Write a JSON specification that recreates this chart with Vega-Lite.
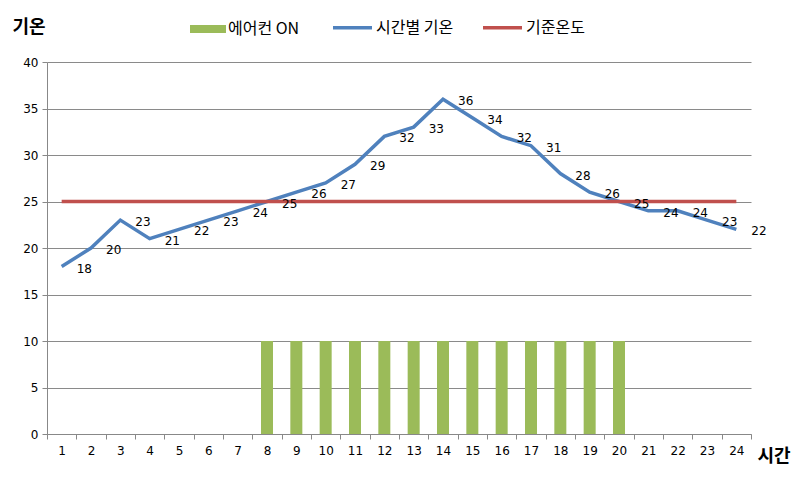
{
  "$schema": "https://vega.github.io/schema/vega-lite/v6.json",
  "width": 704,
  "height": 372,
  "autosize": "none",
  "padding": {"left": 47, "top": 62, "right": 56, "bottom": 44},
  "background": "white",
  "data": {
    "values": [
      {"hour": 1, "temp": 18, "base": 25, "ac": null},
      {"hour": 2, "temp": 20, "base": 25, "ac": null},
      {"hour": 3, "temp": 23, "base": 25, "ac": null},
      {"hour": 4, "temp": 21, "base": 25, "ac": null},
      {"hour": 5, "temp": 22, "base": 25, "ac": null},
      {"hour": 6, "temp": 23, "base": 25, "ac": null},
      {"hour": 7, "temp": 24, "base": 25, "ac": null},
      {"hour": 8, "temp": 25, "base": 25, "ac": 10},
      {"hour": 9, "temp": 26, "base": 25, "ac": 10},
      {"hour": 10, "temp": 27, "base": 25, "ac": 10},
      {"hour": 11, "temp": 29, "base": 25, "ac": 10},
      {"hour": 12, "temp": 32, "base": 25, "ac": 10},
      {"hour": 13, "temp": 33, "base": 25, "ac": 10},
      {"hour": 14, "temp": 36, "base": 25, "ac": 10},
      {"hour": 15, "temp": 34, "base": 25, "ac": 10},
      {"hour": 16, "temp": 32, "base": 25, "ac": 10},
      {"hour": 17, "temp": 31, "base": 25, "ac": 10},
      {"hour": 18, "temp": 28, "base": 25, "ac": 10},
      {"hour": 19, "temp": 26, "base": 25, "ac": 10},
      {"hour": 20, "temp": 25, "base": 25, "ac": 10},
      {"hour": 21, "temp": 24, "base": 25, "ac": null},
      {"hour": 22, "temp": 24, "base": 25, "ac": null},
      {"hour": 23, "temp": 23, "base": 25, "ac": null},
      {"hour": 24, "temp": 22, "base": 25, "ac": null}
    ]
  },
  "encoding": {
    "x": {
      "field": "hour",
      "type": "ordinal",
      "scale": {"paddingInner": 0, "paddingOuter": 0},
      "axis": {
        "title": "시간",
        "titleFont": "Noto Sans CJK KR",
        "titleFontSize": 18,
        "titleFontWeight": "bold",
        "titleAngle": 0,
        "titleX": 710,
        "titleY": 22,
        "titleAlign": "left",
        "titleBaseline": "middle",
        "labelAngle": 0,
        "labelFont": "DejaVu Sans",
        "labelFontSize": 12,
        "labelColor": "#000000",
        "labelPadding": 6,
        "tickBand": "extent",
        "tickSize": 5,
        "tickColor": "#888888",
        "domainColor": "#888888",
        "grid": false
      }
    }
  },
  "layer": [
    {
      "mark": {"type": "bar", "size": 12},
      "encoding": {
        "y": {
          "field": "ac",
          "type": "quantitative",
          "scale": {"domain": [0, 40]},
          "axis": {
            "title": "기온",
            "titleFont": "Noto Sans CJK KR",
            "titleFontSize": 18,
            "titleFontWeight": "bold",
            "titleAngle": 0,
            "titleX": -35,
            "titleY": -35,
            "titleAlign": "left",
            "titleBaseline": "middle",
            "values": [0, 5, 10, 15, 20, 25, 30, 35, 40],
            "labelFont": "DejaVu Sans",
            "labelFontSize": 12,
            "labelColor": "#000000",
            "labelPadding": 4,
            "tickSize": 5,
            "tickColor": "#888888",
            "domainColor": "#888888",
            "gridColor": "#8a8a8a",
            "gridWidth": 1
          }
        },
        "fill": {
          "datum": "에어컨 ON",
          "type": "nominal",
          "scale": {"range": ["#9BBB59"]},
          "legend": {
            "title": null,
            "orient": "none",
            "legendX": 143,
            "legendY": -51,
            "symbolType": "M-1,-0.222H1V0.222H-1Z",
            "symbolSize": 1296,
            "symbolStrokeWidth": 0,
            "labelFont": "Noto Sans CJK KR",
            "labelFontSize": 16,
            "labelColor": "#000000",
            "labelOffset": 2
          }
        }
      }
    },
    {
      "transform": [
        {"fold": ["temp", "base"], "as": ["key", "val"]},
        {"calculate": "datum.key == 'temp' ? '시간별 기온' : '기준온도'", "as": "series"}
      ],
      "mark": {"type": "line", "strokeWidth": 3.5},
      "encoding": {
        "y": {"field": "val", "type": "quantitative"},
        "stroke": {
          "field": "series",
          "type": "nominal",
          "scale": {"domain": ["시간별 기온", "기준온도"], "range": ["#4F81BD", "#C0504D"]},
          "legend": {
            "title": null,
            "orient": "none",
            "direction": "horizontal",
            "legendX": 284,
            "legendY": -56,
            "symbolType": "stroke",
            "symbolSize": 1521,
            "symbolStrokeWidth": 3.5,
            "labelFont": "Noto Sans CJK KR",
            "labelFontSize": 16,
            "labelColor": "#000000",
            "labelOffset": 2,
            "columnPadding": 22
          }
        },
        "order": {"field": "hour", "type": "quantitative"}
      }
    },
    {
      "mark": {"type": "text", "align": "left", "baseline": "middle", "dx": 15, "dy": 2, "font": "DejaVu Sans", "fontSize": 12, "color": "#000000"},
      "encoding": {
        "y": {"field": "temp", "type": "quantitative"},
        "text": {"field": "temp", "type": "quantitative"}
      }
    }
  ],
  "config": {
    "view": {"stroke": null}
  }
}
